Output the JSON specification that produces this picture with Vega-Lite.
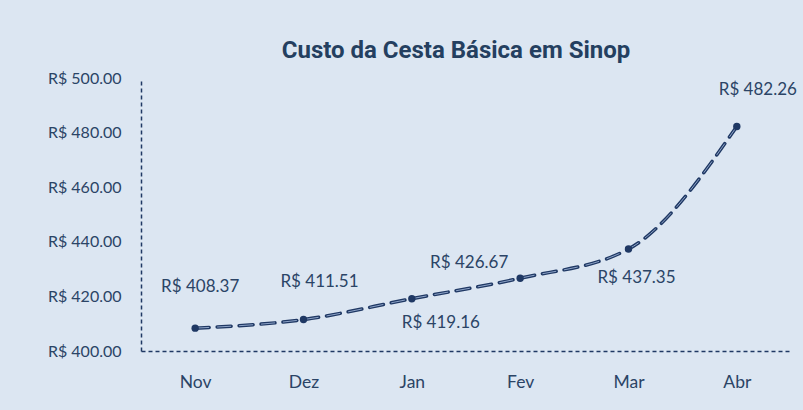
{
  "$schema": "https://vega.github.io/schema/vega-lite/v6.json",
  "width": 650,
  "height": 273,
  "autosize": {"type": "none"},
  "padding": {"left": 141, "top": 78, "right": 12, "bottom": 59},
  "background": "#dce6f2",
  "title": {
    "text": "Custo da Cesta Básica em Sinop",
    "font": "Roboto",
    "fontSize": 24,
    "fontWeight": "bold",
    "color": "#243f60",
    "anchor": "middle",
    "dx": -10,
    "offset": 7
  },
  "config": {
    "locale": {"number": {"decimal": ".", "thousands": ",", "grouping": [3], "currency": ["R$ ", ""]}},
    "view": {"stroke": null},
    "axis": {"labelFont": "Lato", "labelFontSize": 16, "labelColor": "#2b4466", "grid": false, "ticks": false, "domainColor": "#1f3864", "domainDash": [4, 3], "domainWidth": 1.5, "title": null}
  },
  "data": {
    "values": [
      {"mes": "Nov", "valor": 408.37},
      {"mes": "Dez", "valor": 411.51},
      {"mes": "Jan", "valor": 419.16},
      {"mes": "Fev", "valor": 426.67},
      {"mes": "Mar", "valor": 437.35},
      {"mes": "Abr", "valor": 482.26}
    ]
  },
  "encoding": {
    "x": {"field": "mes", "type": "ordinal", "sort": null, "scale": {"type": "point", "padding": 0.5}, "axis": {"labelAngle": 0, "labelPadding": 22, "labelFontSize": 17.5}},
    "y": {"field": "valor", "type": "quantitative", "scale": {"domain": [400, 500], "nice": false, "zero": false}, "axis": {"values": [400, 420, 440, 460, 480, 500], "format": "$.2f", "labelPadding": 20}}
  },
  "layer": [
    {"mark": {"type": "line", "interpolate": "monotone", "color": "#1f3864", "strokeWidth": 3.5, "strokeDash": [14, 8], "strokeCap": "round"}},
    {"mark": {"type": "line", "interpolate": "monotone", "color": "#8ea4c8", "strokeWidth": 1, "strokeDash": [14, 8]}},
    {"mark": {"type": "point", "filled": true, "opacity": 1, "size": 55, "color": "#1f3864"}},
    {"transform": [{"filter": "datum.mes == 'Nov'"}], "mark": {"type": "text", "font": "Lato", "fontSize": 17, "color": "#2b4466", "dx": 5, "dy": -41}, "encoding": {"text": {"field": "valor", "format": "$.2f"}}},
    {"transform": [{"filter": "datum.mes == 'Dez'"}], "mark": {"type": "text", "font": "Lato", "fontSize": 17, "color": "#2b4466", "dx": 16, "dy": -38}, "encoding": {"text": {"field": "valor", "format": "$.2f"}}},
    {"transform": [{"filter": "datum.mes == 'Jan'"}], "mark": {"type": "text", "font": "Lato", "fontSize": 17, "color": "#2b4466", "dx": 29, "dy": 24}, "encoding": {"text": {"field": "valor", "format": "$.2f"}}},
    {"transform": [{"filter": "datum.mes == 'Fev'"}], "mark": {"type": "text", "font": "Lato", "fontSize": 17, "color": "#2b4466", "dx": -51, "dy": -15}, "encoding": {"text": {"field": "valor", "format": "$.2f"}}},
    {"transform": [{"filter": "datum.mes == 'Mar'"}], "mark": {"type": "text", "font": "Lato", "fontSize": 17, "color": "#2b4466", "dx": 8, "dy": 29}, "encoding": {"text": {"field": "valor", "format": "$.2f"}}},
    {"transform": [{"filter": "datum.mes == 'Abr'"}], "mark": {"type": "text", "font": "Lato", "fontSize": 17, "color": "#2b4466", "dx": 21, "dy": -36}, "encoding": {"text": {"field": "valor", "format": "$.2f"}}}
  ]
}
